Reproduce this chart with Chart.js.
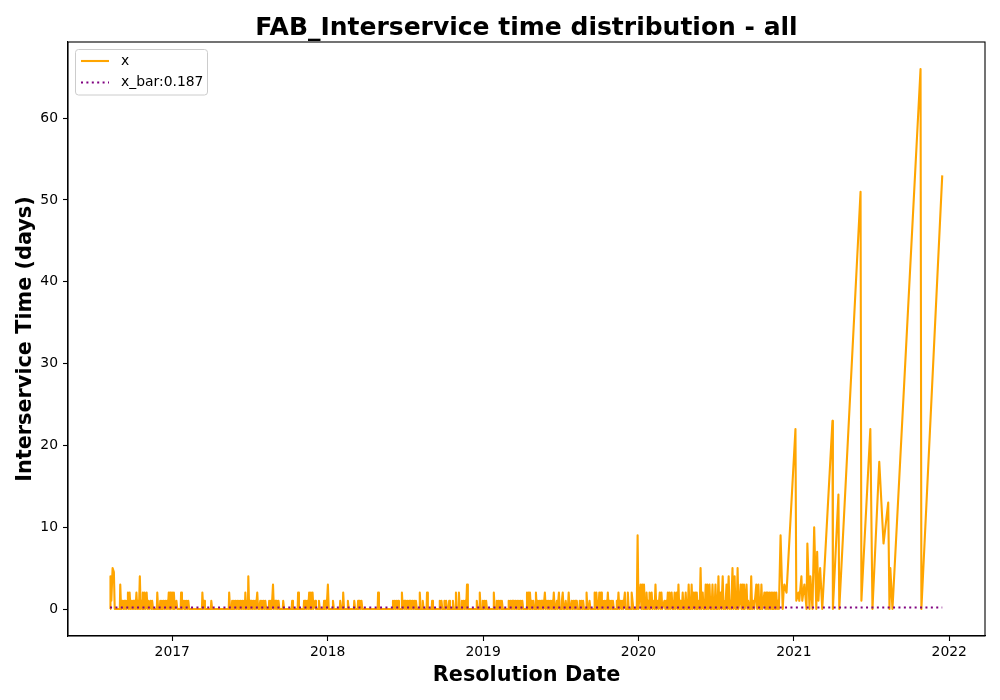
<!DOCTYPE html>
<html><head><meta charset="utf-8">
<script src="https://cdn.jsdelivr.net/npm/chart.js@4"></script>
<style>html,body{margin:0;padding:0;background:#fff}canvas{display:block}</style>
</head><body>
<canvas id="c" width="1000" height="700"></canvas>
<script>
// Resolution dates, as days since 2016-01-01
const daysSince2016 = [
219,220,222,225,228,230,242,243,245,247,
248,250,252,254,256,258,260,261,263,265,
267,269,271,273,275,277,279,281,283,285,
287,289,291,293,295,296,298,300,302,305,
307,309,311,314,316,318,320,329,330,332,
336,337,339,341,343,345,347,349,351,353,
355,357,359,360,362,365,367,369,371,375,
377,385,386,388,391,393,395,397,399,401,
403,405,435,436,438,440,442,456,457,459,
498,499,501,505,506,508,510,512,514,516,
518,520,522,524,526,528,530,532,534,536,
537,539,541,543,544,546,548,550,552,554,
556,558,560,562,565,567,570,572,574,576,
578,580,582,584,586,592,593,595,597,599,
602,604,607,609,611,613,615,617,625,626,
628,646,647,649,660,661,663,674,675,677,
679,681,683,685,687,689,691,693,695,697,
701,703,709,710,712,721,722,724,726,728,
731,733,742,743,745,759,760,762,766,767,
769,777,778,780,792,793,795,801,802,804,
806,808,810,812,848,849,851,883,884,886,
888,890,892,894,896,898,904,905,907,910,
912,914,916,918,920,922,924,926,928,930,
932,934,936,938,940,946,947,949,953,954,
956,963,964,966,975,976,978,993,994,996,
998,1000,1004,1005,1007,1009,1011,1015,1016,1018,
1024,1025,1027,1031,1032,1034,1038,1039,1041,1045,
1046,1048,1050,1052,1054,1056,1058,1060,1080,1081,
1083,1087,1088,1090,1094,1095,1097,1099,1101,1103,
1105,1120,1121,1123,1127,1128,1130,1132,1134,1136,
1138,1140,1142,1155,1156,1158,1160,1162,1164,1166,
1168,1170,1172,1174,1176,1178,1180,1182,1184,1186,
1188,1190,1198,1199,1201,1203,1205,1206,1208,1210,
1212,1214,1216,1219,1220,1222,1224,1226,1228,1230,
1232,1234,1236,1238,1241,1243,1246,1248,1250,1252,
1254,1256,1258,1260,1262,1264,1267,1269,1271,1274,
1276,1279,1281,1283,1285,1288,1290,1292,1295,1297,
1299,1302,1304,1306,1308,1310,1312,1314,1316,1318,
1322,1323,1325,1327,1329,1331,1333,1338,1339,1341,
1344,1346,1348,1357,1358,1360,1362,1364,1365,1367,
1369,1371,1373,1375,1377,1379,1381,1383,1385,1387,
1389,1391,1393,1395,1397,1399,1401,1403,1409,1410,
1412,1414,1416,1419,1421,1423,1425,1429,1431,1435,
1436,1438,1444,1445,1447,1449,1457,1459,1461,1466,
1468,1470,1472,1474,1476,1478,1479,1480,1482,1484,
1486,1487,1489,1492,1494,1497,1499,1501,1503,1506,
1508,1511,1513,1515,1517,1522,1524,1526,1528,1530,
1532,1534,1536,1539,1541,1543,1544,1546,1548,1551,
1553,1555,1557,1559,1560,1562,1563,1565,1567,1569,
1570,1572,1574,1576,1577,1579,1581,1583,1584,1586,
1588,1591,1593,1595,1597,1598,1600,1603,1605,1607,
1609,1612,1614,1616,1617,1619,1621,1623,1625,1628,
1630,1632,1633,1635,1637,1639,1640,1642,1644,1646,
1647,1649,1651,1654,1656,1659,1661,1664,1665,1668,
1670,1673,1675,1677,1679,1682,1684,1687,1689,1691,
1692,1694,1696,1699,1701,1703,1705,1707,1709,1711,
1713,1715,1717,1719,1721,1724,1726,1728,1731,1733,
1738,1740,1743,1745,1747,1748,1750,1752,1755,1757,
1759,1761,1763,1765,1767,1769,1771,1773,1775,1777,
1779,1781,1783,1785,1787,1789,1791,1795,1800,1802,
1804,1809,1830,1832,1837,1839,1844,1846,1851,1856,
1858,1863,1865,1870,1874,1879,1881,1884,1888,1893,
1917,1918,1931,1933,1983,1985,2006,2011,2027,2037,
2048,2051,2053,2058,2124,2126,2175
];
// Interservice time (days) at each resolution date
const interserviceDays = [
0,4,1,5,4.5,0,0,3,0,0,
1,0,1,0,1,0,1,2,0,2,
0,1,0,1,0,1,0,2,0,1,
0,4,0,1,0,2,0,2,0,2,
0,1,0,1,0,1,0,0,2,0,
0,1,0,1,0,1,0,1,0,1,
0,2,0,2,0,2,0,2,0,1,
0,0,2,0,1,0,1,0,1,0,
1,0,0,2,0,1,0,0,1,0,
0,2,0,0,1,0,1,0,1,0,
1,0,1,0,1,0,1,0,1,0,
2,0,1,0,4,0,1,0,1,0,
1,0,1,0,2,0,0,1,0,1,
0,1,0,1,0,0,1,0,1,0,
3,0,1,0,1,0,1,0,0,1,
0,0,1,0,0,2,0,0,1,0,
1,0,1,0,2,0,2,0,2,0,
1,0,0,1,0,0,1,0,1,0,
3,0,0,1,0,0,1,0,0,2,
0,0,1,0,0,1,0,0,1,0,
1,0,1,0,0,2,0,0,1,0,
1,0,1,0,1,0,0,2,0,1,
0,1,0,1,0,1,0,1,0,1,
0,1,0,1,0,0,2,0,0,1,
0,0,2,0,0,1,0,0,1,0,
1,0,0,1,0,1,0,0,1,0,
0,1,0,0,2,0,0,2,0,0,
1,0,1,0,1,0,3,0,0,1,
0,0,2,0,0,1,0,1,0,1,
0,0,2,0,0,1,0,1,0,1,
0,1,0,0,1,0,1,0,1,0,
1,0,1,0,1,0,1,0,1,0,
1,0,0,2,0,2,0,2,0,1,
0,1,0,0,2,0,1,0,1,0,
1,0,1,0,2,0,1,0,1,0,
1,0,1,0,2,0,0,1,0,2,
0,0,1,2,0,0,1,0,0,2,
0,0,1,0,1,0,1,0,1,0,
0,1,0,1,0,1,0,0,2,0,
0,1,0,0,2,0,2,0,1,0,
2,0,2,0,1,0,1,0,1,0,
2,0,1,0,1,0,1,0,0,1,
0,2,0,1,0,1,0,2,0,0,
2,0,0,2,1,0,0,9,0,3,
0,3,0,3,0,1,0,2,0,1,
0,2,0,2,0,1,0,3,0,1,
0,2,0,2,0,1,0,1,0,2,
0,2,0,2,0,1,0,2,0,2,
0,3,0,1,0,1,0,2,0,1,
0,2,0,1,0,3,0,1,0,3,
0,2,0,2,0,2,0,1,0,5,
0,2,0,1,0,3,0,3,0,3,
0,1,0,3,0,1,0,3,0,1,
0,4,0,2,0,4,0,1,0,3,
0,4,0,1,0,5,0,4,0,1,
0,5,0,1,3,0,3,0,3,0,
1,3,0,1,0,0,4,0,1,0,
3,0,3,0,1,0,3,0,1,2,
0,2,0,2,0,2,0,2,0,2,
0,2,0,2,0,1,0,9,0,2,
3,2,22,1,2,1,4,1,3,0,
8,0,4,0,10,0,7,1,5,0,
23,0,14,0,51,1,22,0,18,8,
13,0,5,0,66,0,53
];
const meanInterservice = 0.187;
const seriesLabel = 'x';
const meanLabel = 'x_bar:' + meanInterservice;
const xTickYears = [2017, 2018, 2019, 2020, 2021, 2022];
const yTickValues = [0, 10, 20, 30, 40, 50, 60];

const FONT = 'DejaVu Sans';
const toYear = d => 2016 + d / 365.25;
const n = Math.min(daysSince2016.length, interserviceDays.length);
const seriesPoints = [];
for (let i = 0; i < n; i++) seriesPoints.push({x: toYear(daysSince2016[i]), y: interserviceDays[i]});
const meanPoints = [
  {x: toYear(daysSince2016[0]), y: meanInterservice},
  {x: toYear(daysSince2016[n - 1]), y: meanInterservice}
];

const framePlugin = {
  id: 'frame',
  afterDatasetsDraw(chart) {
    const {ctx, chartArea: a} = chart;
    ctx.save();
    ctx.strokeStyle = '#000';
    ctx.lineWidth = 1.1;
    ctx.strokeRect(a.left, a.top, a.right - a.left, a.bottom - a.top);
    ctx.restore();
  }
};

const insideLegend = {
  id: 'insideLegend',
  afterDraw(chart) {
    const {ctx, chartArea: a} = chart;
    const x0 = a.left + 7.5, y0 = a.top + 7.5, w = 132, h = 45.5, r = 3;
    ctx.save();
    ctx.beginPath();
    ctx.moveTo(x0 + r, y0);
    ctx.lineTo(x0 + w - r, y0); ctx.quadraticCurveTo(x0 + w, y0, x0 + w, y0 + r);
    ctx.lineTo(x0 + w, y0 + h - r); ctx.quadraticCurveTo(x0 + w, y0 + h, x0 + w - r, y0 + h);
    ctx.lineTo(x0 + r, y0 + h); ctx.quadraticCurveTo(x0, y0 + h, x0, y0 + h - r);
    ctx.lineTo(x0, y0 + r); ctx.quadraticCurveTo(x0, y0, x0 + r, y0);
    ctx.closePath();
    ctx.fillStyle = 'rgba(255,255,255,0.8)';
    ctx.fill();
    ctx.strokeStyle = '#cccccc';
    ctx.lineWidth = 1;
    ctx.stroke();
    const items = chart.data.datasets;
    const rows = [items[1], items[0]];
    rows.forEach((ds, i) => {
      const yy = y0 + 11.5 + i * 21.5;
      ctx.beginPath();
      ctx.setLineDash(ds.borderDash || []);
      ctx.strokeStyle = ds.borderColor;
      ctx.lineWidth = ds.borderWidth;
      ctx.moveTo(x0 + 5.5, yy);
      ctx.lineTo(x0 + 33.5, yy);
      ctx.stroke();
      ctx.setLineDash([]);
      ctx.fillStyle = '#000';
      ctx.font = '13.9px "' + FONT + '"';
      ctx.textBaseline = 'middle';
      ctx.textAlign = 'left';
      ctx.fillText(ds.label, x0 + 45.5, yy);
    });
    ctx.restore();
  }
};

new Chart(document.getElementById('c'), {
  type: 'line',
  data: {
    datasets: [
      {label: meanLabel, data: meanPoints, borderColor: '#800080', borderWidth: 2,
       borderDash: [2, 3.4], pointRadius: 0, fill: false, order: 1},
      {label: seriesLabel, data: seriesPoints, borderColor: '#FFA500', borderWidth: 2.1,
       borderJoinStyle: 'round', borderCapStyle: 'butt',
       pointRadius: 0, fill: false, tension: 0, order: 2}
    ]
  },
  options: {
    responsive: false,
    animation: false,
    devicePixelRatio: 1,
    events: [],
    layout: {padding: {left: 0, right: 15, top: 0, bottom: 0}},
    plugins: {
      legend: {display: false},
      tooltip: {enabled: false},
      title: {
        display: true, fullSize: false,
        text: 'FAB_Interservice time distribution - all',
        color: '#000',
        font: {family: FONT, size: 25, weight: 'bold', lineHeight: 1.0},
        padding: {top: 16, bottom: 1}
      }
    },
    scales: {
      x: {
        type: 'linear', min: 2016.329, max: 2022.230,
        afterBuildTicks: s => { s.ticks = xTickYears.map(v => ({value: v})); },
        afterFit: s => { s.height = 64; },
        ticks: {callback: v => String(v), color: '#000', font: {family: FONT, size: 13.9},
                padding: 3, maxRotation: 0, autoSkip: false},
        grid: {display: true, drawOnChartArea: false, drawTicks: true, tickLength: 5,
               color: '#000', tickColor: '#000', tickWidth: 1.1},
        border: {display: true, color: '#000', width: 1.1},
        title: {display: true, text: 'Resolution Date', color: '#000',
                font: {family: FONT, size: 20.8, weight: 'bold', lineHeight: 1.2},
                padding: {top: 0, bottom: 11.5}}
      },
      y: {
        type: 'linear', min: -3.3, max: 69.3,
        afterBuildTicks: s => { s.ticks = yTickValues.map(v => ({value: v})); },
        afterFit: s => { s.width = 68; },
        ticks: {callback: v => String(v), color: '#000', font: {family: FONT, size: 13.9},
                padding: 5, autoSkip: false},
        grid: {display: true, drawOnChartArea: false, drawTicks: true, tickLength: 5,
               color: '#000', tickColor: '#000', tickWidth: 1.1},
        border: {display: true, color: '#000', width: 1.1},
        title: {display: true, text: 'Interservice Time (days)', color: '#000',
                font: {family: FONT, size: 20.8, weight: 'bold', lineHeight: 1.2},
                padding: {top: 13.5, bottom: 0}}
      }
    }
  },
  plugins: [framePlugin, insideLegend]
});
</script>
</body></html>
